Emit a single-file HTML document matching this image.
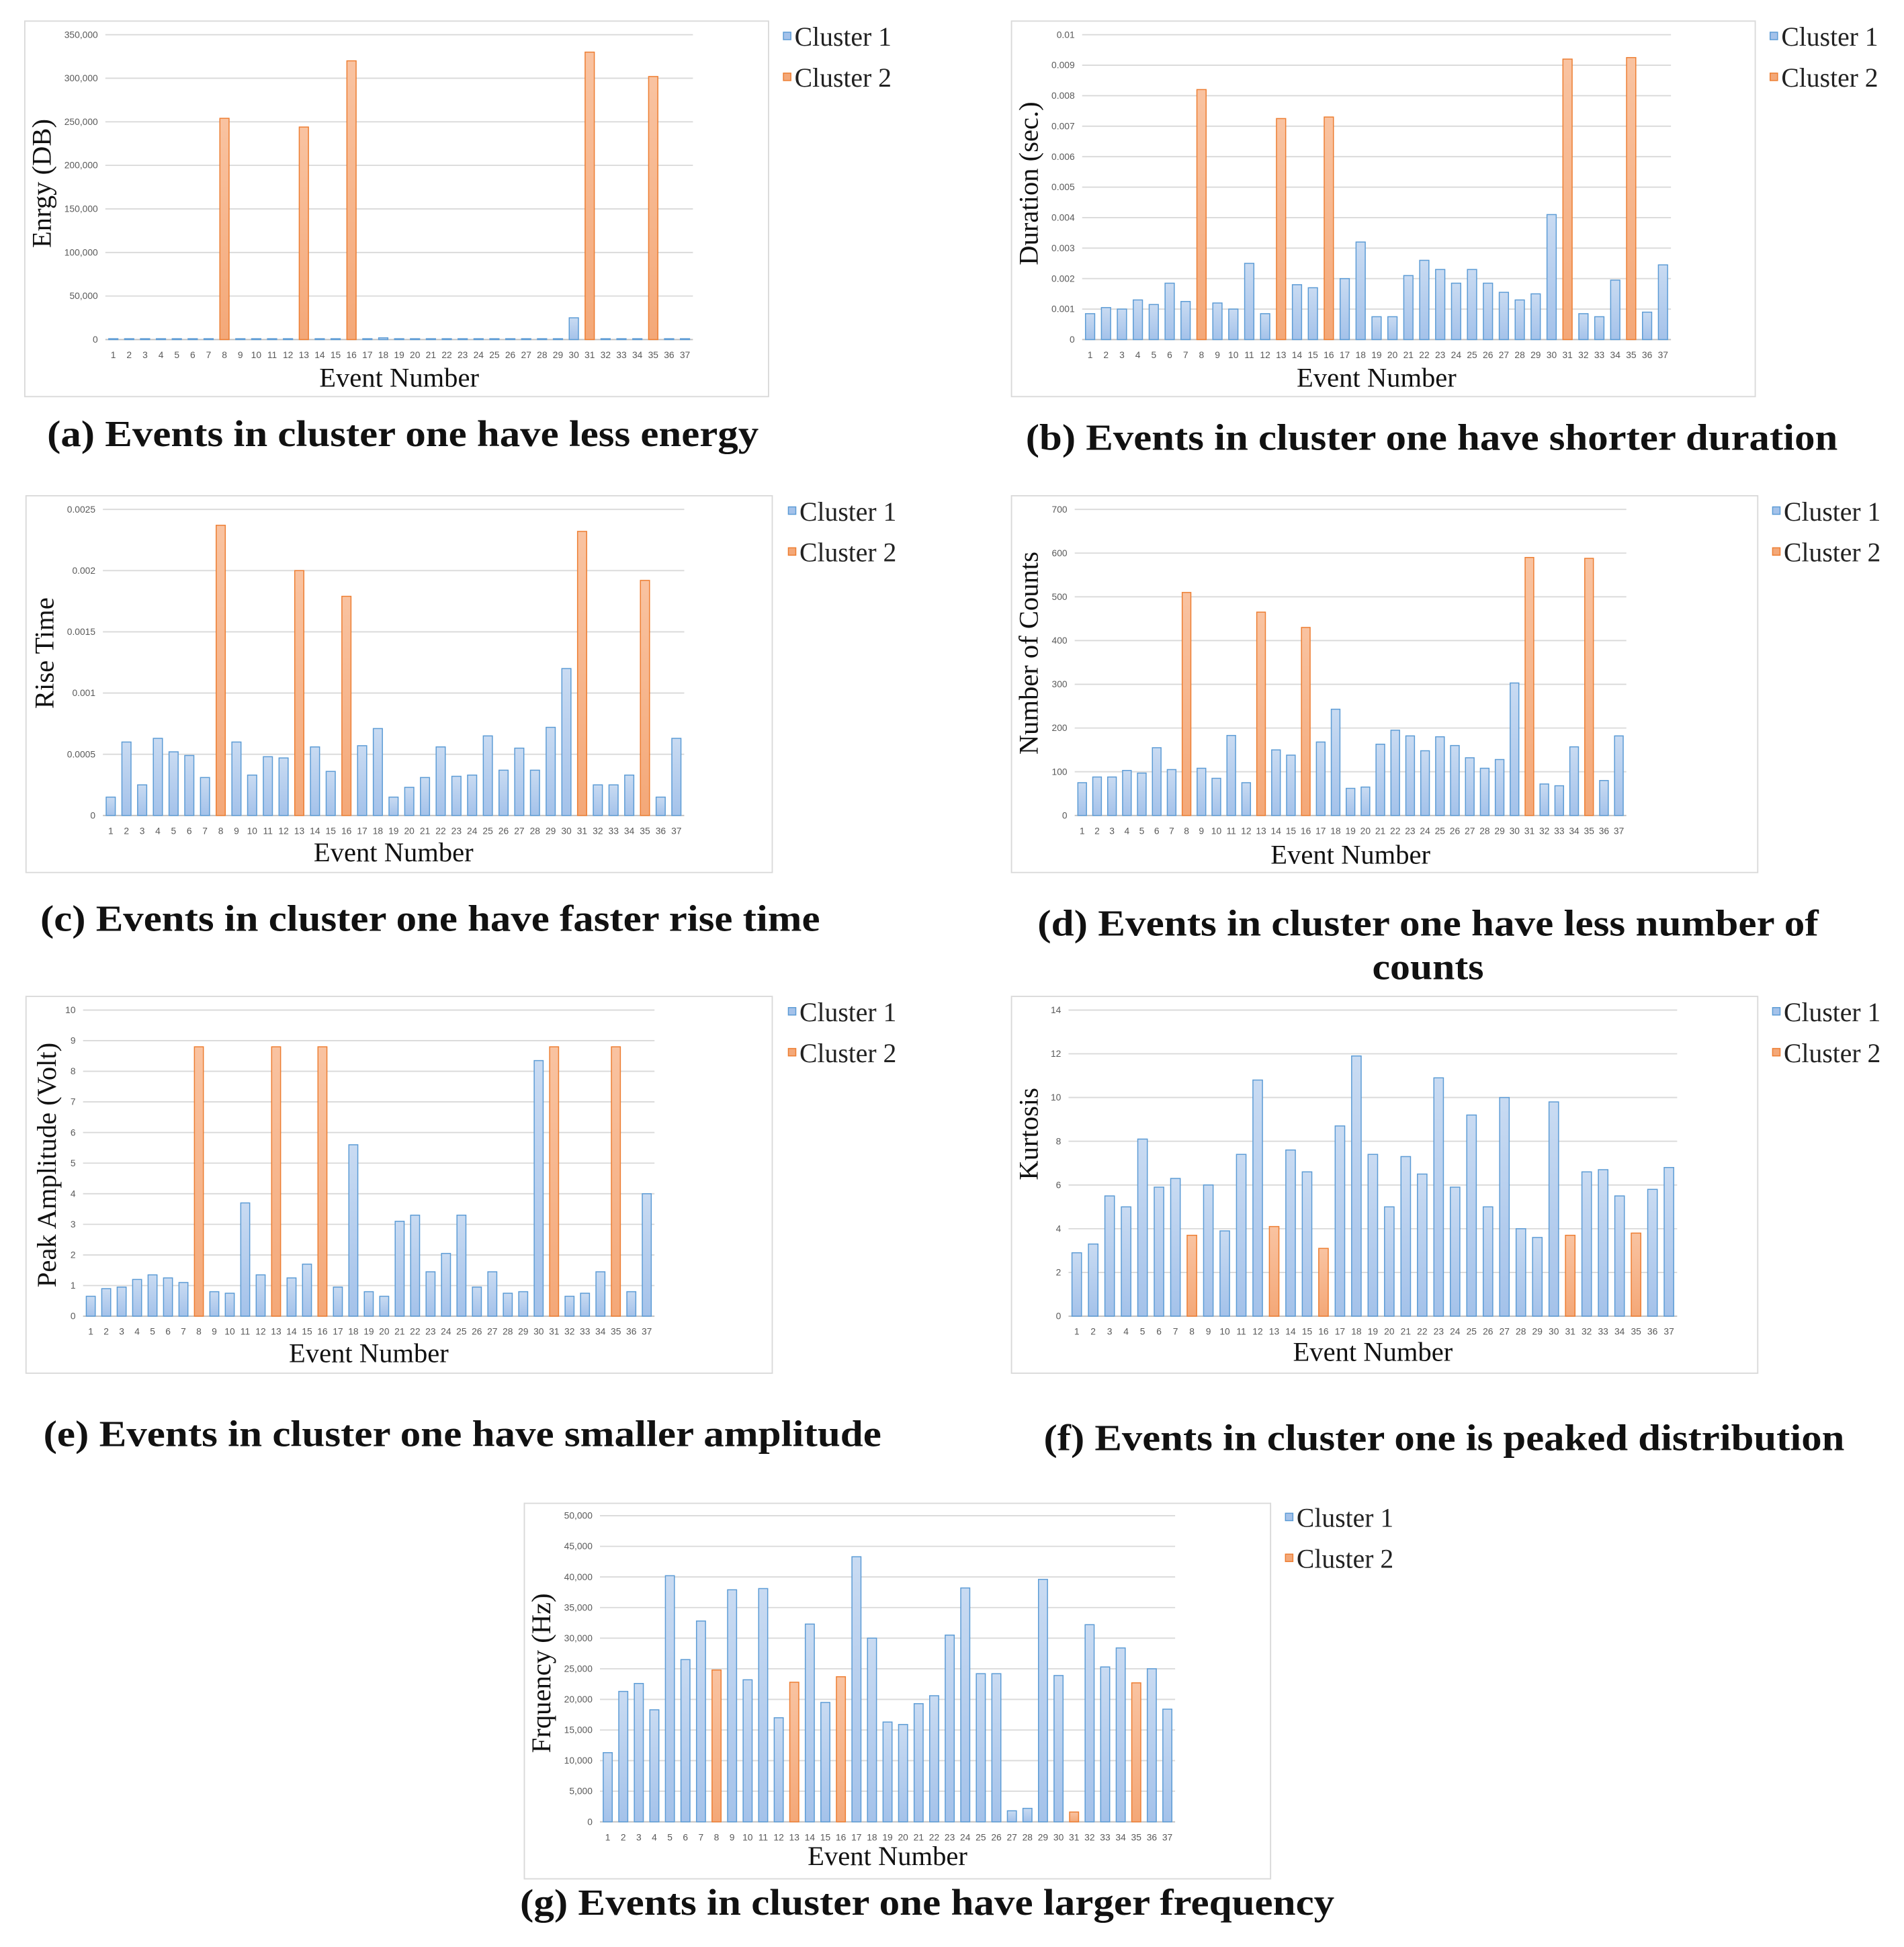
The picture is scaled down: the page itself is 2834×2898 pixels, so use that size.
<!DOCTYPE html>
<html><head><meta charset="utf-8"><style>
html,body{margin:0;padding:0;background:#fff}
svg{display:block}
.tick{font-family:"Liberation Sans",sans-serif;font-size:7.5px;fill:#595959}
.ttl{font-family:"Liberation Serif",serif;font-size:22px;fill:#111}
.leg{font-family:"Liberation Serif",serif;font-size:21.5px;fill:#222}
.cap{font-family:"Liberation Serif",serif;font-size:30px;font-weight:bold;fill:#111}
</style></head><body>
<svg id="root" width="2834" height="2898" viewBox="0 0 1536 1571" preserveAspectRatio="none" xmlns="http://www.w3.org/2000/svg">
<defs>
<linearGradient id="gb" x1="0" y1="0" x2="0" y2="1"><stop offset="0" stop-color="#c9dbf2"/><stop offset="1" stop-color="#a4c2ea"/></linearGradient>
<linearGradient id="go" x1="0" y1="0" x2="0" y2="1"><stop offset="0" stop-color="#f9c3a1"/><stop offset="1" stop-color="#f4a878"/></linearGradient>
</defs>
</svg>
<script>
const categories = Array.from({length:37},(_,i)=>String(i+1));
const cluster2Events = [8,13,16,31,35];
const energyValues = [1000,1000,1000,1000,1000,1000,1000,254000,1000,1000,1000,1000,244000,1000,1000,320000,1000,2000,1000,1000,1000,1000,1000,1000,1000,1000,1000,1000,1000,25000,330000,1000,1000,1000,302000,1000,1000];
const energyTicks = ["0","50,000","100,000","150,000","200,000","250,000","300,000","350,000"];
const durationValues = [0.00085,0.00105,0.001,0.0013,0.00115,0.00185,0.00125,0.0082,0.0012,0.001,0.0025,0.00085,0.00725,0.0018,0.0017,0.0073,0.002,0.0032,0.00075,0.00075,0.0021,0.0026,0.0023,0.00185,0.0023,0.00185,0.00155,0.0013,0.0015,0.0041,0.0092,0.00085,0.00075,0.00195,0.00925,0.0009,0.00245];
const durationTicks = ["0","0.001","0.002","0.003","0.004","0.005","0.006","0.007","0.008","0.009","0.01"];
const riseValues = [0.00015,0.0006,0.00025,0.00063,0.00052,0.00049,0.00031,0.00237,0.0006,0.00033,0.00048,0.00047,0.002,0.00056,0.00036,0.00179,0.00057,0.00071,0.00015,0.00023,0.00031,0.00056,0.00032,0.00033,0.00065,0.00037,0.00055,0.00037,0.00072,0.0012,0.00232,0.00025,0.00025,0.00033,0.00192,0.00015,0.00063];
const riseTicks = ["0","0.0005","0.001","0.0015","0.002","0.0025"];
const countValues = [75,88,88,103,97,155,105,510,108,85,183,75,465,150,138,430,168,243,62,65,163,195,182,148,180,160,132,108,128,303,590,72,68,157,588,80,182];
const countTicks = ["0","100","200","300","400","500","600","700"];
const ampValues = [0.65,0.9,0.95,1.2,1.35,1.25,1.1,8.8,0.8,0.75,3.7,1.35,8.8,1.25,1.7,8.8,0.95,5.6,0.8,0.65,3.1,3.3,1.45,2.05,3.3,0.95,1.45,0.75,0.8,8.35,8.8,0.65,0.75,1.45,8.8,0.8,4.0];
const ampTicks = ["0","1","2","3","4","5","6","7","8","9","10"];
const kurtValues = [2.9,3.3,5.5,5.0,8.1,5.9,6.3,3.7,6.0,3.9,7.4,10.8,4.1,7.6,6.6,3.1,8.7,11.9,7.4,5.0,7.3,6.5,10.9,5.9,9.2,5.0,10.0,4.0,3.6,9.8,3.7,6.6,6.7,5.5,3.8,5.8,6.8];
const kurtTicks = ["0","2","4","6","8","10","12","14"];
const freqValues = [11300,21300,22600,18300,40200,26500,32800,24800,37900,23200,38100,17000,22800,32300,19500,23700,43300,30000,16300,15900,19300,20600,30500,38200,24200,24200,1800,2200,39600,23900,1600,32200,25300,28400,22700,25000,18400];
const freqTicks = ["0","5,000","10,000","15,000","20,000","25,000","30,000","35,000","40,000","45,000","50,000"];

const NS="http://www.w3.org/2000/svg";
const root=document.getElementById('root');
function mk(tag,attrs,parent){const e=document.createElementNS(NS,tag);for(const k in attrs)e.setAttribute(k,attrs[k]);(parent||root).appendChild(e);return e;}

const panels=[
 {id:'energy',vals:energyValues,ticks:energyTicks,max:350000,frame:[20,17,600,303],pl:85,pr:559,pt:28,pb:274,yt:'Enrgy (DB)',ytx:34,yty:148,xty:305,leg:[632,30],cap:['(a) Events in cluster one have less energy'],capw:[574],capx:325,capy:[360]},
 {id:'duration',vals:durationValues,ticks:durationTicks,max:0.01,frame:[816,17,600,303],pl:873,pr:1348,pt:28,pb:274,yt:'Duration (sec.)',ytx:830,yty:148,xty:305,leg:[1428,30],cap:['(b) Events in cluster one have shorter duration'],capw:[655],capx:1155,capy:[363]},
 {id:'rise',vals:riseValues,ticks:riseTicks,max:0.0025,frame:[21,400,602,304],pl:83,pr:552,pt:411,pb:658,yt:'Rise Time',ytx:36,yty:527,xty:688,leg:[636,413],cap:['(c) Events in cluster one have faster rise time'],capw:[629],capx:347,capy:[751]},
 {id:'counts',vals:countValues,ticks:countTicks,max:700,frame:[816,400,602,304],pl:867,pr:1312,pt:411,pb:658,yt:'Number of Counts',ytx:830,yty:527,xty:690,leg:[1430,413],cap:['(d) Events in cluster one have less number of','counts'],capw:[630,90],capx:1152,capy:[755,790]},
 {id:'amplitude',vals:ampValues,ticks:ampTicks,max:10,frame:[21,804,602,304],pl:67,pr:528,pt:815,pb:1062,yt:'Peak Amplitude (Volt)',ytx:38,yty:940,xty:1092,leg:[636,817],cap:['(e) Events in cluster one have smaller amplitude'],capw:[676],capx:373,capy:[1167]},
 {id:'kurtosis',vals:kurtValues,ticks:kurtTicks,max:14,frame:[816,804,602,304],pl:862,pr:1353,pt:815,pb:1062,yt:'Kurtosis',ytx:830,yty:915,xty:1091,leg:[1430,817],cap:['(f) Events in cluster one is peaked distribution'],capw:[646],capx:1165,capy:[1170]},
 {id:'frequency',vals:freqValues,ticks:freqTicks,max:50000,frame:[423,1213,602,303],pl:484,pr:948,pt:1223,pb:1470,yt:'Frquency (Hz)',ytx:437,yty:1350,xty:1498,leg:[1037,1225],cap:['(g) Events in cluster one have larger frequency'],capw:[657],capx:748,capy:[1545]}
];

panels.forEach(p=>{
 const g=mk('g',{});
 
 
 const fr=mk('rect',{x:p.frame[0],y:p.frame[1],width:p.frame[2],height:p.frame[3],fill:'#fff',stroke:'#d9d9d9','stroke-width':1},g);
 
 
 const n=p.ticks.length-1;
 const yScale=v=>p.pb-(v/p.max)*(p.pb-p.pt);
 const step=(p.pr-p.pl)/categories.length;
 const xScale=i=>p.pl+step*(i+0.5);
 p.ticks.forEach((t,i)=>{
  const y=p.pb-(i/n)*(p.pb-p.pt);
  const gl=mk('line',{x1:p.pl,x2:p.pr,y1:y,y2:y,stroke:i===0?'#bfbfbf':'#d9d9d9','stroke-width':1},g);
  
  
  const tx=mk('text',{x:p.pl-6,y:y+2.5,'text-anchor':'end',class:'tick'},g);
  tx.textContent=t;
  
  
 });
 categories.forEach((c,i)=>{
  const v=p.vals[i];
  const c2=cluster2Events.includes(i+1);
  const bw=step*0.58;
  const y=yScale(v);
  const b=mk('rect',{x:xScale(i)-bw/2,y:y,width:bw,height:Math.max(p.pb-y,0.5),fill:c2?'url(#go)':'url(#gb)',stroke:c2?'#ed7d31':'#5b9bd5','stroke-width':0.8},g);
  
  
  const tx=mk('text',{x:xScale(i),y:p.pb+15,'text-anchor':'middle',class:'tick'},g);
  tx.textContent=c;
  
  
 });
 const yt=mk('text',{x:p.ytx,y:p.yty,'text-anchor':'middle',class:'ttl',transform:`rotate(-90 ${p.ytx} ${p.yty})`,dy:7},g);
 yt.textContent=p.yt;
 
 
 const xt=mk('text',{x:(p.pl+p.pr)/2,y:p.xty+7,'text-anchor':'middle',class:'ttl'},g);
 xt.textContent='Event Number';
 
 
 [['Cluster 1','#a4c2ea','#5b9bd5'],['Cluster 2','#f4a878','#ed7d31']].forEach((l,k)=>{
  const ly=p.leg[1]+k*33;
  const sq=mk('rect',{x:p.leg[0],y:ly-4,width:6,height:6,fill:l[1],stroke:l[2],'stroke-width':0.8},g);
  
  
  const lt=mk('text',{x:p.leg[0]+9,y:ly+7,class:'leg'},g);
  lt.textContent=l[0];
  
  
 });
 p.cap.forEach((c,k)=>{
  const w=p.capw[k];
  const ct=mk('text',{x:p.capx-w/2,y:p.capy[k],class:'cap',textLength:w,lengthAdjust:'spacingAndGlyphs'});
  ct.textContent=c;
  
  
 });
});
</script>
</body></html>
